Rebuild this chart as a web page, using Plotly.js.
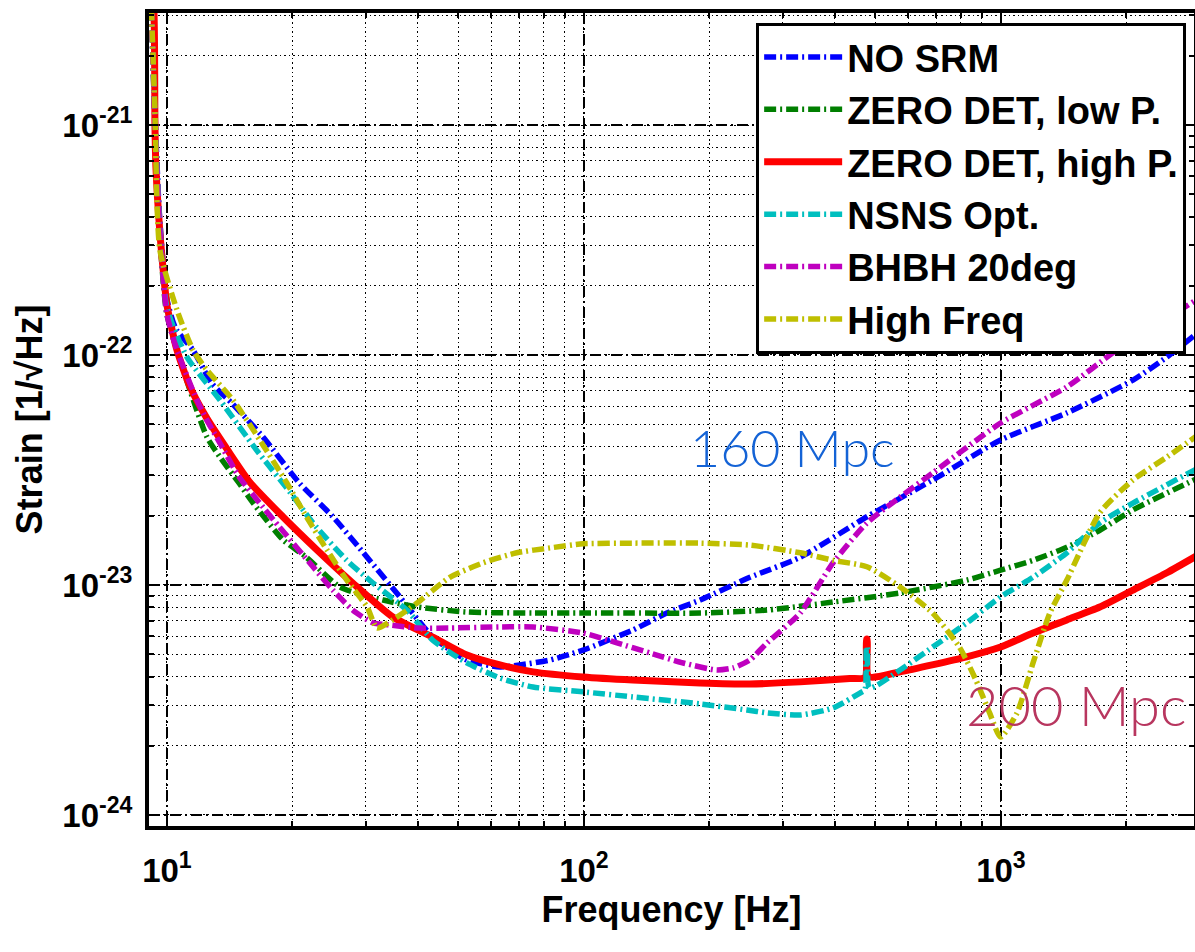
<!DOCTYPE html>
<html>
<head>
<meta charset="utf-8">
<script src="https://cdn.plot.ly/plotly-3.0.1.min.js"></script>
<style>html,body{margin:0;padding:0;background:#fff;}#chart{width:1195px;height:952px;}</style>
</head>
<body>
<div id="chart"></div>
<script>
// ---- data (frequency in Hz, strain in 1/sqrt(Hz)) ----
const noSrmF = [9.1, 9.35, 9.6, 10, 10.5, 11.55, 12.8, 14.4, 17.0, 20.8, 25.0, 30.2, 36.2, 43.4, 52.4, 62.9, 70.2, 83.0, 99.5, 131, 158, 190, 250, 330, 477, 686, 998, 1439, 2073, 2500, 2950];
const noSrmS = [5e-21, 1.2e-21, 4.0e-22, 1.75e-22, 1.3e-22, 1.05e-22, 7.55e-23, 6.1e-23, 4.4e-23, 2.77e-23, 1.98e-23, 1.32e-23, 8.87e-24, 5.94e-24, 4.72e-24, 4.4e-24, 4.49e-24, 4.72e-24, 5.21e-24, 6.37e-24, 7.55e-24, 8.6e-24, 1.08e-23, 1.32e-23, 1.98e-23, 2.86e-23, 4.27e-23, 5.6e-23, 7.78e-23, 9.8e-23, 1.24e-22];

const zeroLowF = [9.1, 9.35, 9.6, 10, 11.35, 12.47, 13.4, 14.9, 16.1, 19.0, 21.6, 26.0, 33.0, 39.8, 52.4, 75.5, 99.5, 131, 190, 275, 396, 573, 828, 998, 1194, 1439, 1726, 2073, 2950];
const zeroLowS = [5e-21, 1.1e-21, 3.5e-22, 1.5e-22, 7.05e-23, 4.4e-23, 3.6e-23, 2.77e-23, 2.27e-23, 1.57e-23, 1.32e-23, 9.8e-24, 8.6e-24, 8.02e-24, 7.63e-24, 7.55e-24, 7.55e-24, 7.55e-24, 7.55e-24, 7.78e-24, 8.43e-24, 9.23e-24, 1.05e-23, 1.16e-23, 1.28e-23, 1.46e-23, 1.73e-23, 2.12e-23, 2.9e-23];

const zeroHighF = [9.1, 9.31, 9.36, 9.41, 9.62, 9.78, 10, 10.57, 11.35, 12.47, 13.93, 15.8, 18.97, 22.9, 27.9, 34.8, 43.4, 52.4, 62.9, 75.5, 99.5, 131, 190, 250, 330, 434, 472, 476, 478, 482, 573, 828, 998, 1194, 1439, 1726, 2073, 2500, 2950];
const zeroHighS = [5e-21, 3.07e-21, 1e-21, 6.6e-22, 3.39e-22, 2.41e-22, 1.65e-22, 1.05e-22, 7.3e-23, 5.3e-23, 3.9e-23, 2.8e-23, 1.98e-23, 1.42e-23, 1.02e-23, 7.26e-24, 5.94e-24, 4.96e-24, 4.49e-24, 4.19e-24, 3.98e-24, 3.86e-24, 3.75e-24, 3.71e-24, 3.79e-24, 3.92e-24, 3.96e-24, 5.8e-24, 5.8e-24, 4.0e-24, 4.19e-24, 4.87e-24, 5.37e-24, 6.18e-24, 7.05e-24, 8.02e-24, 9.5e-24, 1.13e-23, 1.34e-23];

const nsnsF = [9.1, 9.35, 9.6, 10, 11.17, 13.4, 16.4, 19.8, 22.4, 27.0, 31.2, 37.6, 43.4, 52.4, 62.9, 75.5, 99.5, 131, 190, 246, 275, 330, 396, 459, 472, 476, 478, 484, 573, 686, 828, 998, 1194, 1439, 1726, 2073, 2950];
const nsnsS = [5e-21, 1.15e-21, 3.8e-22, 1.6e-22, 9.8e-23, 6.37e-23, 3.86e-23, 2.51e-23, 1.86e-23, 1.28e-23, 1.02e-23, 7.78e-24, 5.75e-24, 4.58e-24, 3.94e-24, 3.6e-24, 3.43e-24, 3.26e-24, 3.04e-24, 2.86e-24, 2.78e-24, 2.72e-24, 2.92e-24, 3.39e-24, 3.5e-24, 5.4e-24, 5.4e-24, 3.57e-24, 4.27e-24, 5.37e-24, 6.84e-24, 8.87e-24, 1.08e-23, 1.38e-23, 1.86e-23, 2.27e-23, 3.2e-23];

const bhbhF = [9.1, 9.35, 9.6, 10, 10.57, 11.8, 12.47, 13.4, 14.9, 17.0, 18.6, 22.4, 25.0, 27.9, 31.2, 34.3, 39.8, 47.7, 62.9, 75.5, 99.5, 120, 144, 173, 208, 228, 250, 275, 330, 396, 477, 573, 686, 998, 1439, 1895, 2950];
const bhbhS = [5e-21, 1.1e-21, 3.6e-22, 1.5e-22, 1.05e-22, 6.37e-23, 5.21e-23, 4.14e-23, 2.95e-23, 2.18e-23, 1.79e-23, 1.2e-23, 9.5e-24, 7.78e-24, 6.84e-24, 6.7e-24, 6.5e-24, 6.5e-24, 6.57e-24, 6.57e-24, 6.18e-24, 5.6e-24, 5.06e-24, 4.58e-24, 4.27e-24, 4.36e-24, 4.72e-24, 5.6e-24, 7.55e-24, 1.25e-23, 1.86e-23, 2.41e-23, 3.07e-23, 5.06e-23, 7.26e-23, 1.05e-22, 1.74e-22];

const highFreqF = [9.1, 9.35, 9.62, 10.57, 11.55, 12.47, 14.4, 16.7, 19.4, 21.6, 24.2, 27.0, 30.2, 31.9, 34.8, 39.8, 47.7, 57.4, 69.0, 83.0, 99.5, 131, 190, 250, 330, 396, 477, 573, 686, 795, 871, 940, 998, 1092, 1194, 1310, 1439, 1726, 2073, 2500, 2950];
const highFreqS = [5e-21, 1.2e-21, 2.86e-22, 1.57e-22, 1.05e-22, 8.6e-23, 6.37e-23, 4.27e-23, 2.77e-23, 1.98e-23, 1.42e-23, 1.05e-23, 8.02e-24, 6.5e-24, 7.05e-24, 8.35e-24, 1.08e-23, 1.25e-23, 1.38e-23, 1.45e-23, 1.51e-23, 1.52e-23, 1.52e-23, 1.49e-23, 1.38e-23, 1.28e-23, 1.2e-23, 9.8e-24, 7.55e-24, 5.37e-24, 3.86e-24, 2.77e-24, 2.18e-24, 2.77e-24, 4.58e-24, 7.55e-24, 1.05e-23, 2.06e-23, 2.86e-23, 3.6e-23, 4.45e-23];

const seriesNames = ["NO SRM", "ZERO DET, low P.", "ZERO DET, high P.", "NSNS Opt.", "BHBH 20deg", "High Freq"];
const seriesColors = ["#0000ff", "#007f00", "#ff0000", "#00bfbf", "#bf00bf", "#bfbf00"];

const xTickVals = [10, 100, 1000];
const xTickText = ["10<sup>1</sup>", "10<sup>2</sup>", "10<sup>3</sup>"];
const yTickVals = [1e-24, 1e-23, 1e-22, 1e-21];
const yTickText = ["10<sup>-24</sup>", "10<sup>-23</sup>", "10<sup>-22</sup>", "10<sup>-21</sup>"];

const annoTexts = ["160 Mpc", "200 Mpc"];
const annoColors = ["#1463d6", "#b8365f"];

// ---- build ----
const xs = [noSrmF, zeroLowF, zeroHighF, nsnsF, bhbhF, highFreqF];
const ys = [noSrmS, zeroLowS, zeroHighS, nsnsS, bhbhS, highFreqS];
const dashPat = "12px,4px,2px,4px";

const traces = seriesNames.map((name, i) => ({
  type: "scatter",
  mode: "lines",
  name: name,
  x: xs[i],
  y: ys[i],
  legendgroup: "g" + i,
  line: {
    color: seriesColors[i],
    width: i === 2 ? 7 : 5.5,
    dash: i === 2 ? "solid" : dashPat,
    shape: "spline",
    smoothing: 0.6
  }
}));

const tickFont = {family: "Liberation Sans, Arial, sans-serif", size: 33, weight: "bold", color: "#000"};
const titleFont = {family: "Liberation Sans, Arial, sans-serif", size: 36, weight: "bold", color: "#000"};

const axisCommon = {
  type: "log",
  showline: true,
  linecolor: "#000",
  linewidth: 4,
  mirror: "ticks",
  ticks: "inside",
  ticklen: 9,
  tickwidth: 2,
  tickcolor: "#000",
  showgrid: true,
  gridcolor: "#000",
  gridwidth: 1.4,
  griddash: "11px,4px,2px,4px",
  zeroline: false,
  tickfont: tickFont,
  tickmode: "array",
  minor: {
    dtick: "D1",
    showgrid: true,
    gridcolor: "#000",
    gridwidth: 1,
    griddash: "1.5px,3px",
    ticks: "inside",
    ticklen: 5,
    tickwidth: 2,
    tickcolor: "#000"
  }
};

const layout = {
  width: 1195,
  height: 952,
  margin: {l: 149, r: 1, t: 13, b: 126, pad: 0},
  paper_bgcolor: "#fff",
  plot_bgcolor: "#fff",
  showlegend: true,
  xaxis: Object.assign({}, axisCommon, {
    range: [0.957, 3.463],
    tickvals: xTickVals,
    ticktext: xTickText,
    ticklabelstandoff: 12,
    title: {text: "Frequency [Hz]", font: titleFont, standoff: 4}
  }),
  yaxis: Object.assign({}, axisCommon, {
    range: [-24.048, -20.513],
    tickvals: yTickVals,
    ticktext: yTickText,
    ticklabelstandoff: 6,
    title: {text: "Strain [1/\u221AHz]", font: titleFont, standoff: 10}
  }),
  legend: {
    x: 0.581,
    y: 0.988,
    xanchor: "left",
    yanchor: "top",
    bgcolor: "#fff",
    bordercolor: "#000",
    borderwidth: 3,
    font: {family: "Liberation Sans, Arial, sans-serif", size: 38, weight: "bold", color: "#000"},
    tracegroupgap: 0,
    itemwidth: 78,
    traceorder: "grouped"
  },
  annotations: [
    {xref: "x", yref: "y", x: 2.499, y: -22.40, text: annoTexts[0], showarrow: false,
     font: {family: "Lato, Open Sans, sans-serif", size: 52, weight: 300, color: annoColors[0]}},
    {xref: "x", yref: "y", x: 3.18, y: -23.52, text: annoTexts[1], showarrow: false,
     font: {family: "Lato, Open Sans, sans-serif", size: 56, weight: 300, color: annoColors[1]}}
  ]
};

Plotly.newPlot("chart", traces, layout, {staticPlot: true, displayModeBar: false});
</script>
</body>
</html>
